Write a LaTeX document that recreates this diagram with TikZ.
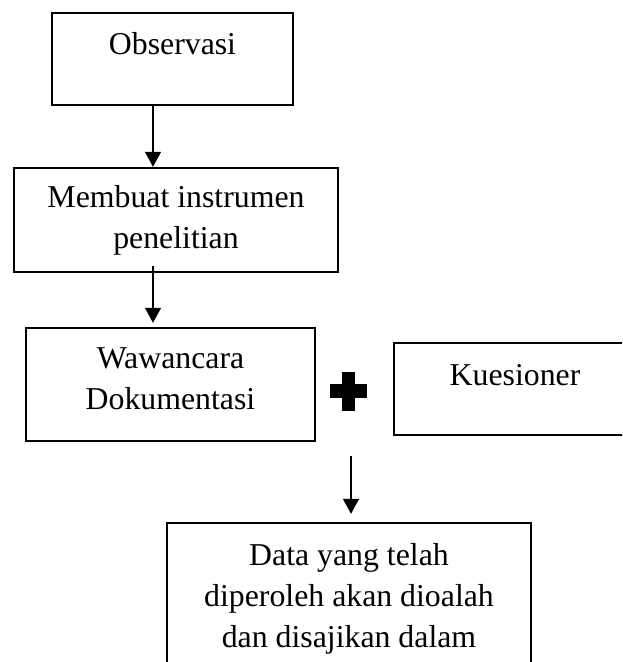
\documentclass[tikz,border=0pt]{standalone}
\usepackage{fontspec}
\setmainfont{Liberation Serif}
\usetikzlibrary{positioning,arrows.meta}

\begin{document}
\begin{tikzpicture}[x=0.5pt,y=-0.5pt]
\tikzset{box/.style={draw,line width=1.2pt,align=center,font=\fontsize{15.9}{20.5}\selectfont},
  oneline/.style={text height=11pt,text depth=15pt},
  arr/.style={line width=0.65pt,-{Triangle[length=7.5pt,width=8pt]}}};
   \useasboundingbox (0,0) rectangle (622,662);
   \clip (0,0) rectangle (622,662);

   \node[box,oneline,minimum width=120.5pt,minimum height=46pt] at (172.5,59) (obs) {Observasi};
   \node[box,minimum width=162pt,minimum height=52pt] at (176,220) (mem) {Membuat instrumen\\penelitian};
   \node[box,minimum width=144.5pt,minimum height=56.5pt] at (170.5,384.5) (waw) {Wawancara\\Dokumentasi\rule[-5.5pt]{0pt}{0pt}};
   \node[box,oneline,minimum width=121pt,minimum height=46pt] at (515,389) (kue) {Kuesioner};
   \node[box,minimum width=182pt,minimum height=76pt] at (349,599) (data) {Data yang telah\\diperoleh akan dioalah\\dan disajikan dalam};

   % tanda tambah
   \fill (342,372) rectangle (355,411);
   \fill (330,384) rectangle (367,398);
   \coordinate (join) at (351,456);

   \draw[arr] ([xshift=-9.75pt]obs.south) -- ([xshift=-9.75pt]obs.south |- mem.north);
   \draw[arr,shorten >=2pt] ([xshift=-11.5pt,yshift=3.5pt]mem.south) -- ([xshift=-11.5pt]mem.south |- waw.north);
   \draw[arr,shorten >=4pt] (join) -- (join |- data.north);
\end{tikzpicture}
\end{document}
